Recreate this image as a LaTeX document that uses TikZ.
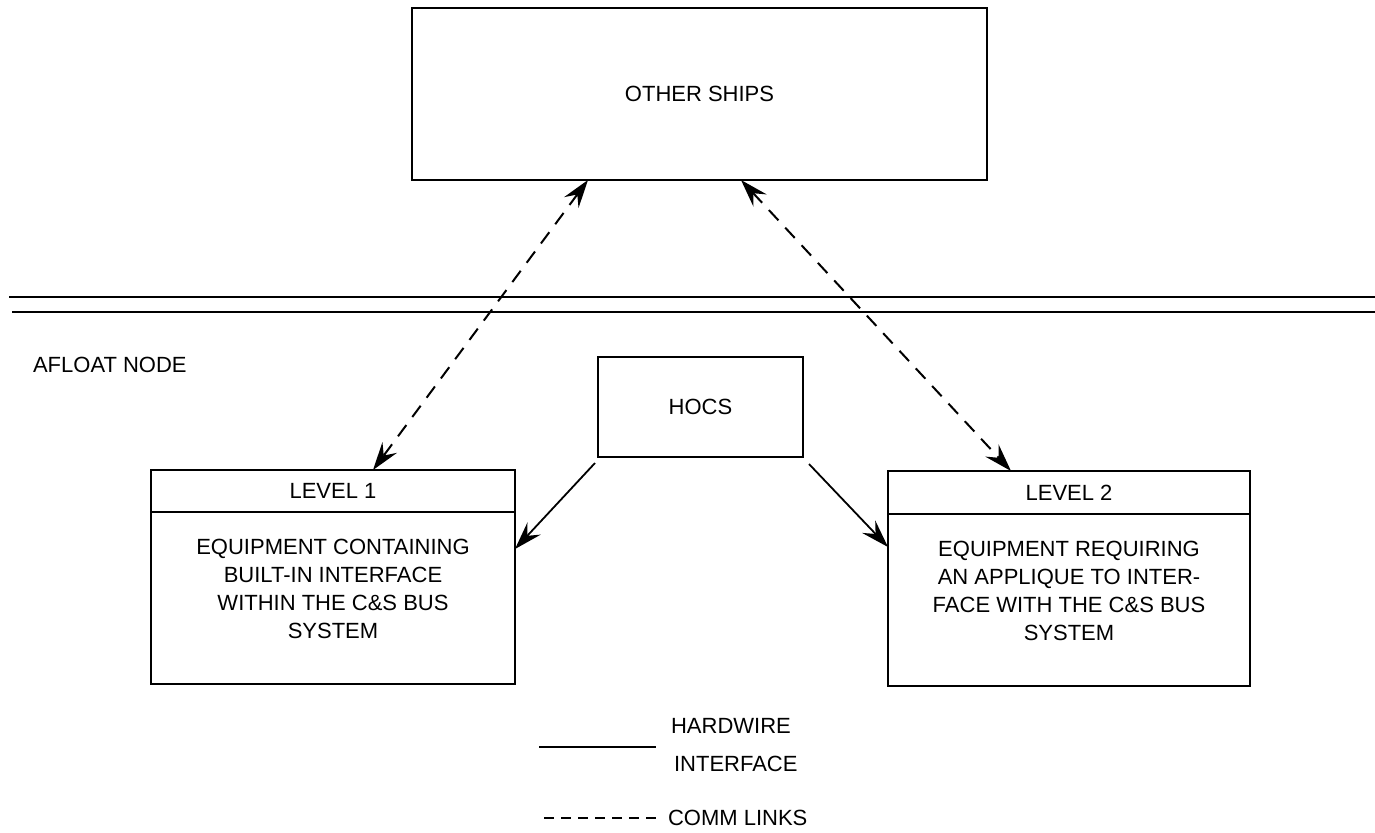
\documentclass[tikz,border=0pt]{standalone}
\usepackage{fontspec}
\setmainfont{Liberation Sans}
\usetikzlibrary{arrows.meta,positioning}

\begin{document}
\begin{tikzpicture}[x=0.5pt,y=-0.5pt,
	box/.style={draw, line width=1pt, inner sep=0pt, outer sep=0pt},
	comm/.style={{Stealth[length=14pt,width=9pt,inset=5pt]}-{Stealth[length=14pt,width=9pt,inset=5pt]}, dash pattern=on 7pt off 5pt, line width=1pt},
	wire/.style={-{Stealth[length=14pt,width=9pt,inset=5pt]}, line width=0.9pt},
	every node/.style={font=\fontsize{11}{14}\selectfont}]

        \def\xmin{0}
        \def\xmax{1375}
        \def\ymin{0}
        \def\ymax{832}
        \useasboundingbox (\xmin,\ymin) rectangle (\xmax,\ymax);

				\node[box, minimum width=287.5pt, minimum height=86pt] (ships) at (699.5,94) {OTHER SHIPS};
				\node[box, minimum width=102.5pt, minimum height=50pt] (hocs) at (700.5,407) {HOCS};
				\node[right] (afloat) at (26,365) {AFLOAT NODE};

				\node[box, minimum width=182pt, minimum height=21pt] (lvlAhead) at (333,491) {LEVEL 1};
				\node[box, minimum width=182pt, minimum height=86pt, below=0pt of lvlAhead] (lvlAbody) {};
				\node[align=center] (lvlAtext) at ([yshift=4.75pt]lvlAbody.center) {EQUIPMENT CONTAINING\\BUILT-IN INTERFACE\\WITHIN THE C\&S BUS\\SYSTEM};

				\node[box, minimum width=181pt, minimum height=21.5pt] (lvlBhead) at (1069,492.5) {LEVEL 2};
				\node[box, minimum width=181pt, minimum height=86pt, below=0pt of lvlBhead] (lvlBbody) {};
				\node[align=center] (lvlBtext) at ([yshift=4.75pt]lvlBbody.center) {EQUIPMENT REQUIRING\\AN APPLIQUE TO INTER-\\FACE WITH THE C\&S BUS\\SYSTEM};

				\draw[line width=0.8pt] (9,297) -- (\xmax,297);
				\draw[line width=0.8pt] (12,312) -- (\xmax,312);

				\draw[comm] ([xshift=88pt]ships.south west) -- ([xshift=111pt]lvlAhead.north west);
				\draw[comm] ([xshift=164.5pt]ships.south west) -- ([xshift=61.5pt]lvlBhead.north west);
				\draw[wire] ([xshift=-1.5pt,yshift=-3pt]hocs.south west) -- ([yshift=-18.5pt]lvlAbody.north east);
				\draw[wire] ([xshift=3pt,yshift=-3.5pt]hocs.south east) -- ([yshift=-16.5pt]lvlBbody.north west);

%        legend
				\coordinate (wireA) at (539,747);
				\coordinate (wireB) at (656,747);
				\coordinate (commA) at (544,818);
				\coordinate (commB) at (656,818);
				\draw[line width=1pt] (wireA) -- (wireB);
				\draw[line width=0.9pt, dash pattern=on 5pt off 3.5pt] (commA) -- (commB);
				\node[right] (hardwire) at (664,726) {HARDWIRE};
				\node[right] (interface) at (667,764) {INTERFACE};
				\node[right] (commlinks) at (661,818) {COMM LINKS};

    \end{tikzpicture}
\end{document}
